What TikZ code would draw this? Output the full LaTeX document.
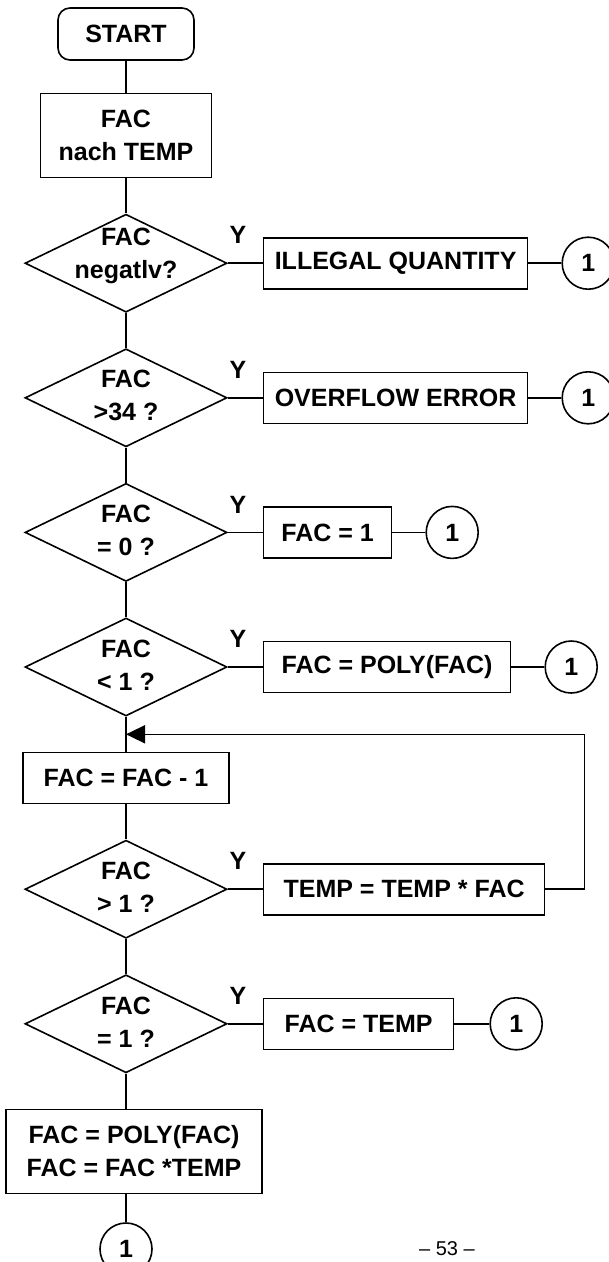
\documentclass[tikz,border=0pt]{standalone}
\usepackage{fontspec}
\setmainfont{Liberation Sans}
\usetikzlibrary{arrows.meta, positioning, calc, shapes.geometric}

\begin{document}
\begin{tikzpicture}[x=1pt, y=-1pt,
  node distance=35pt,
  every node/.style={font=\bfseries\fontsize{25}{33}\selectfont, inner sep=0pt},
  line width=1.6pt,
  >={Triangle[length=19pt, width=18pt]},
  box/.style={draw, rectangle, minimum height=51pt, align=center},
  decision/.style={draw, diamond, minimum width=202pt, minimum height=98pt},
  dtext/.style={align=center, yshift=2pt},
  conn/.style={draw, circle, minimum size=52pt},
  yes/.style={pos=0.29, yshift=28pt},
  loopback/.style={->}
]
\useasboundingbox (0,0) rectangle (609,1262);

\node[box, rounded corners=12pt, minimum width=136pt, minimum height=52pt] (start) at (126,34) {START};
\node[box, minimum width=171pt, minimum height=84pt, below=32pt of start] (totemp) {FAC\\nach TEMP};
\node[decision, below=of totemp] (neg) {};
\node[decision, below=of neg] (big) {};
\node[decision, below=of big] (zero) {};
\node[decision, below=of zero] (small) {};
\node[box, minimum width=206pt, below=of small] (dec) {FAC = FAC - 1};
\node[decision, below=of dec] (gtone) {};
\node[decision, below=of gtone] (eqone) {};
\node[box, minimum width=256pt, minimum height=84pt, below=of eqone, xshift=8pt] (last) {FAC = POLY(FAC)\\FAC = FAC *TEMP};
\coordinate (lastbot) at (last.south -| eqone.south);
\node[conn, below=28pt of lastbot] (c7) {1};

\node[dtext, yshift=5pt] (negtxt) at (neg) {FAC\\negatlv?};
\node[dtext] (bigtxt) at (big) {FAC\\>34 ?};
\node[dtext] (zerotxt) at (zero) {FAC\\= 0 ?};
\node[dtext] (smalltxt) at (small) {FAC\\< 1 ?};
\node[dtext] (gtonetxt) at (gtone) {FAC\\> 1 ?};
\node[dtext] (eqonetxt) at (eqone) {FAC\\= 1 ?};

\node[box, minimum width=264pt, right=35pt of neg] (illegal) {ILLEGAL QUANTITY};
\node[conn, right=33pt of illegal] (c1) {1};
\node[box, minimum width=264pt, right=35pt of big] (overflow) {OVERFLOW ERROR};
\node[conn, right=33pt of overflow] (c2) {1};
\node[box, minimum width=128pt, right=35pt of zero] (one) {FAC = 1};
\node[conn, right=33pt of one] (c3) {1};
\node[box, minimum width=247pt, right=35pt of small] (poly) {FAC = POLY(FAC)};
\node[conn, right=33pt of poly] (c4) {1};
\node[box, minimum width=281pt, right=35pt of gtone] (mult) {TEMP = TEMP * FAC};
\node[box, minimum width=190pt, right=35pt of eqone] (settemp) {FAC = TEMP};
\node[conn, right=35pt of settemp] (c6) {1};

\node[font=\fontsize{20}{24}\selectfont] (page) at (447,1249) {– 53 –};

\draw (start) -- (totemp);
\draw (totemp) -- (neg);
\draw (neg) -- (big);
\draw (big) -- (zero);
\draw (zero) -- (small);
\draw (small) -- (dec);
\draw (dec) -- (gtone);
\draw (gtone) -- (eqone);
\draw (eqone.south) -- (last.north -| eqone.south);
\draw (lastbot) -- (c7);

\draw (neg) -- node[yes] {Y} (illegal);
\draw (illegal) -- (c1);
\draw (big) -- node[yes] {Y} (overflow);
\draw (overflow) -- (c2);
\draw (zero) -- node[yes] {Y} (one);
\draw (one) -- (c3);
\draw (small) -- node[yes] {Y} (poly);
\draw (poly) -- (c4);
\draw (gtone) -- node[yes] {Y} (mult);
\draw (eqone) -- node[yes] {Y} (settemp);
\draw (settemp) -- (c6);

\coordinate (join) at ($(small.south)!0.5!(dec.north)$);
\draw[loopback] (mult.east) -- ++(39pt,0) |- (join);
\end{tikzpicture}
\end{document}
